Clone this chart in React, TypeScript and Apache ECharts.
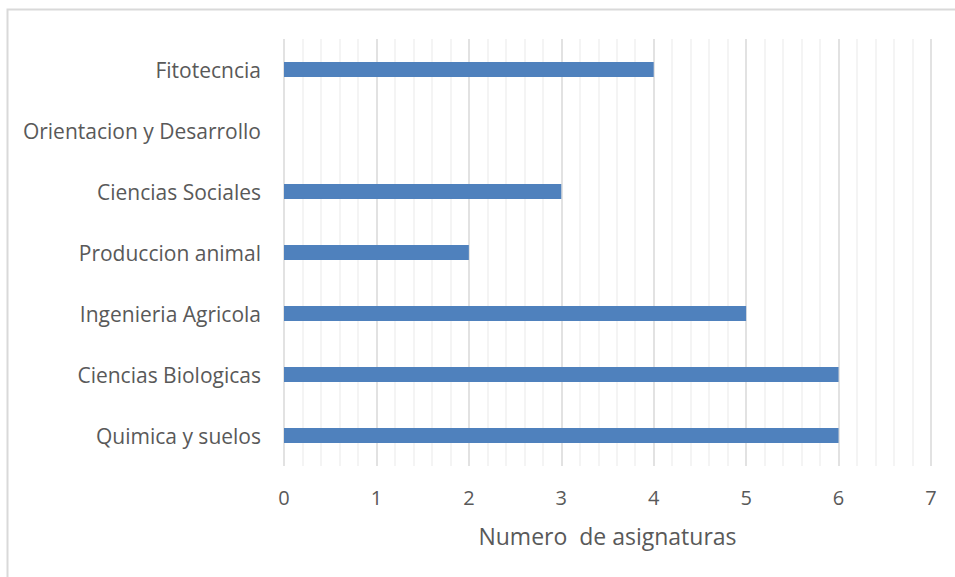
import React, { useEffect, useRef } from "react";
import * as echarts from "echarts";

const categories = [
  "Quimica y suelos",
  "Ciencias Biologicas",
  "Ingenieria Agricola",
  "Produccion animal",
  "Ciencias Sociales",
  "Orientacion y Desarrollo",
  "Fitotecncia",
];
const values = [6, 6, 5, 2, 3, 0, 4];
const axisName = "Numero  de asignaturas";
const FONT = "Open Sans";

export default function App() {
  const ref = useRef<HTMLDivElement>(null);
  useEffect(() => {
    const chart = echarts.init(ref.current!, null, { renderer: "svg" });
    chart.setOption({
      animation: false,
      backgroundColor: "#ffffff",
      graphic: [
        {
          type: "rect",
          shape: { x: 7.5, y: 9.5, width: 1000, height: 1000 },
          style: { fill: "none", stroke: "#d9d9d9", lineWidth: 2 },
          silent: true,
        },
      ],
      grid: { left: 284, right: 24, top: 39, bottom: 111, containLabel: false },
      xAxis: {
        type: "value",
        min: 0,
        max: 7,
        interval: 1,
        axisLine: { show: false },
        axisTick: { show: false },
        axisLabel: { color: "#595959", fontSize: 20, fontFamily: FONT, margin: 21 },
        splitLine: { show: true, lineStyle: { color: "#d9d9d9", width: 1.5 } },
        minorTick: { show: false, splitNumber: 5 },
        minorSplitLine: { show: true, lineStyle: { color: "#f0f0f0", width: 1.5 } },
        name: axisName,
        nameLocation: "middle",
        nameGap: 58,
        nameTextStyle: { color: "#595959", fontSize: 23, fontFamily: FONT },
      },
      yAxis: {
        type: "category",
        data: categories,
        axisLine: { show: false },
        axisTick: { show: false },
        axisLabel: { color: "#595959", fontSize: 21, fontFamily: FONT, margin: 23 },
        splitLine: { show: false },
      },
      series: [
        {
          type: "bar",
          data: values,
          barWidth: 15,
          itemStyle: { color: "#4f81bd" },
        },
      ],
    });
    return () => chart.dispose();
  }, []);
  return (
    <div
      ref={ref}
      style={{ position: "fixed", left: 0, top: 0, width: 955, height: 577 }}
    />
  );
}
